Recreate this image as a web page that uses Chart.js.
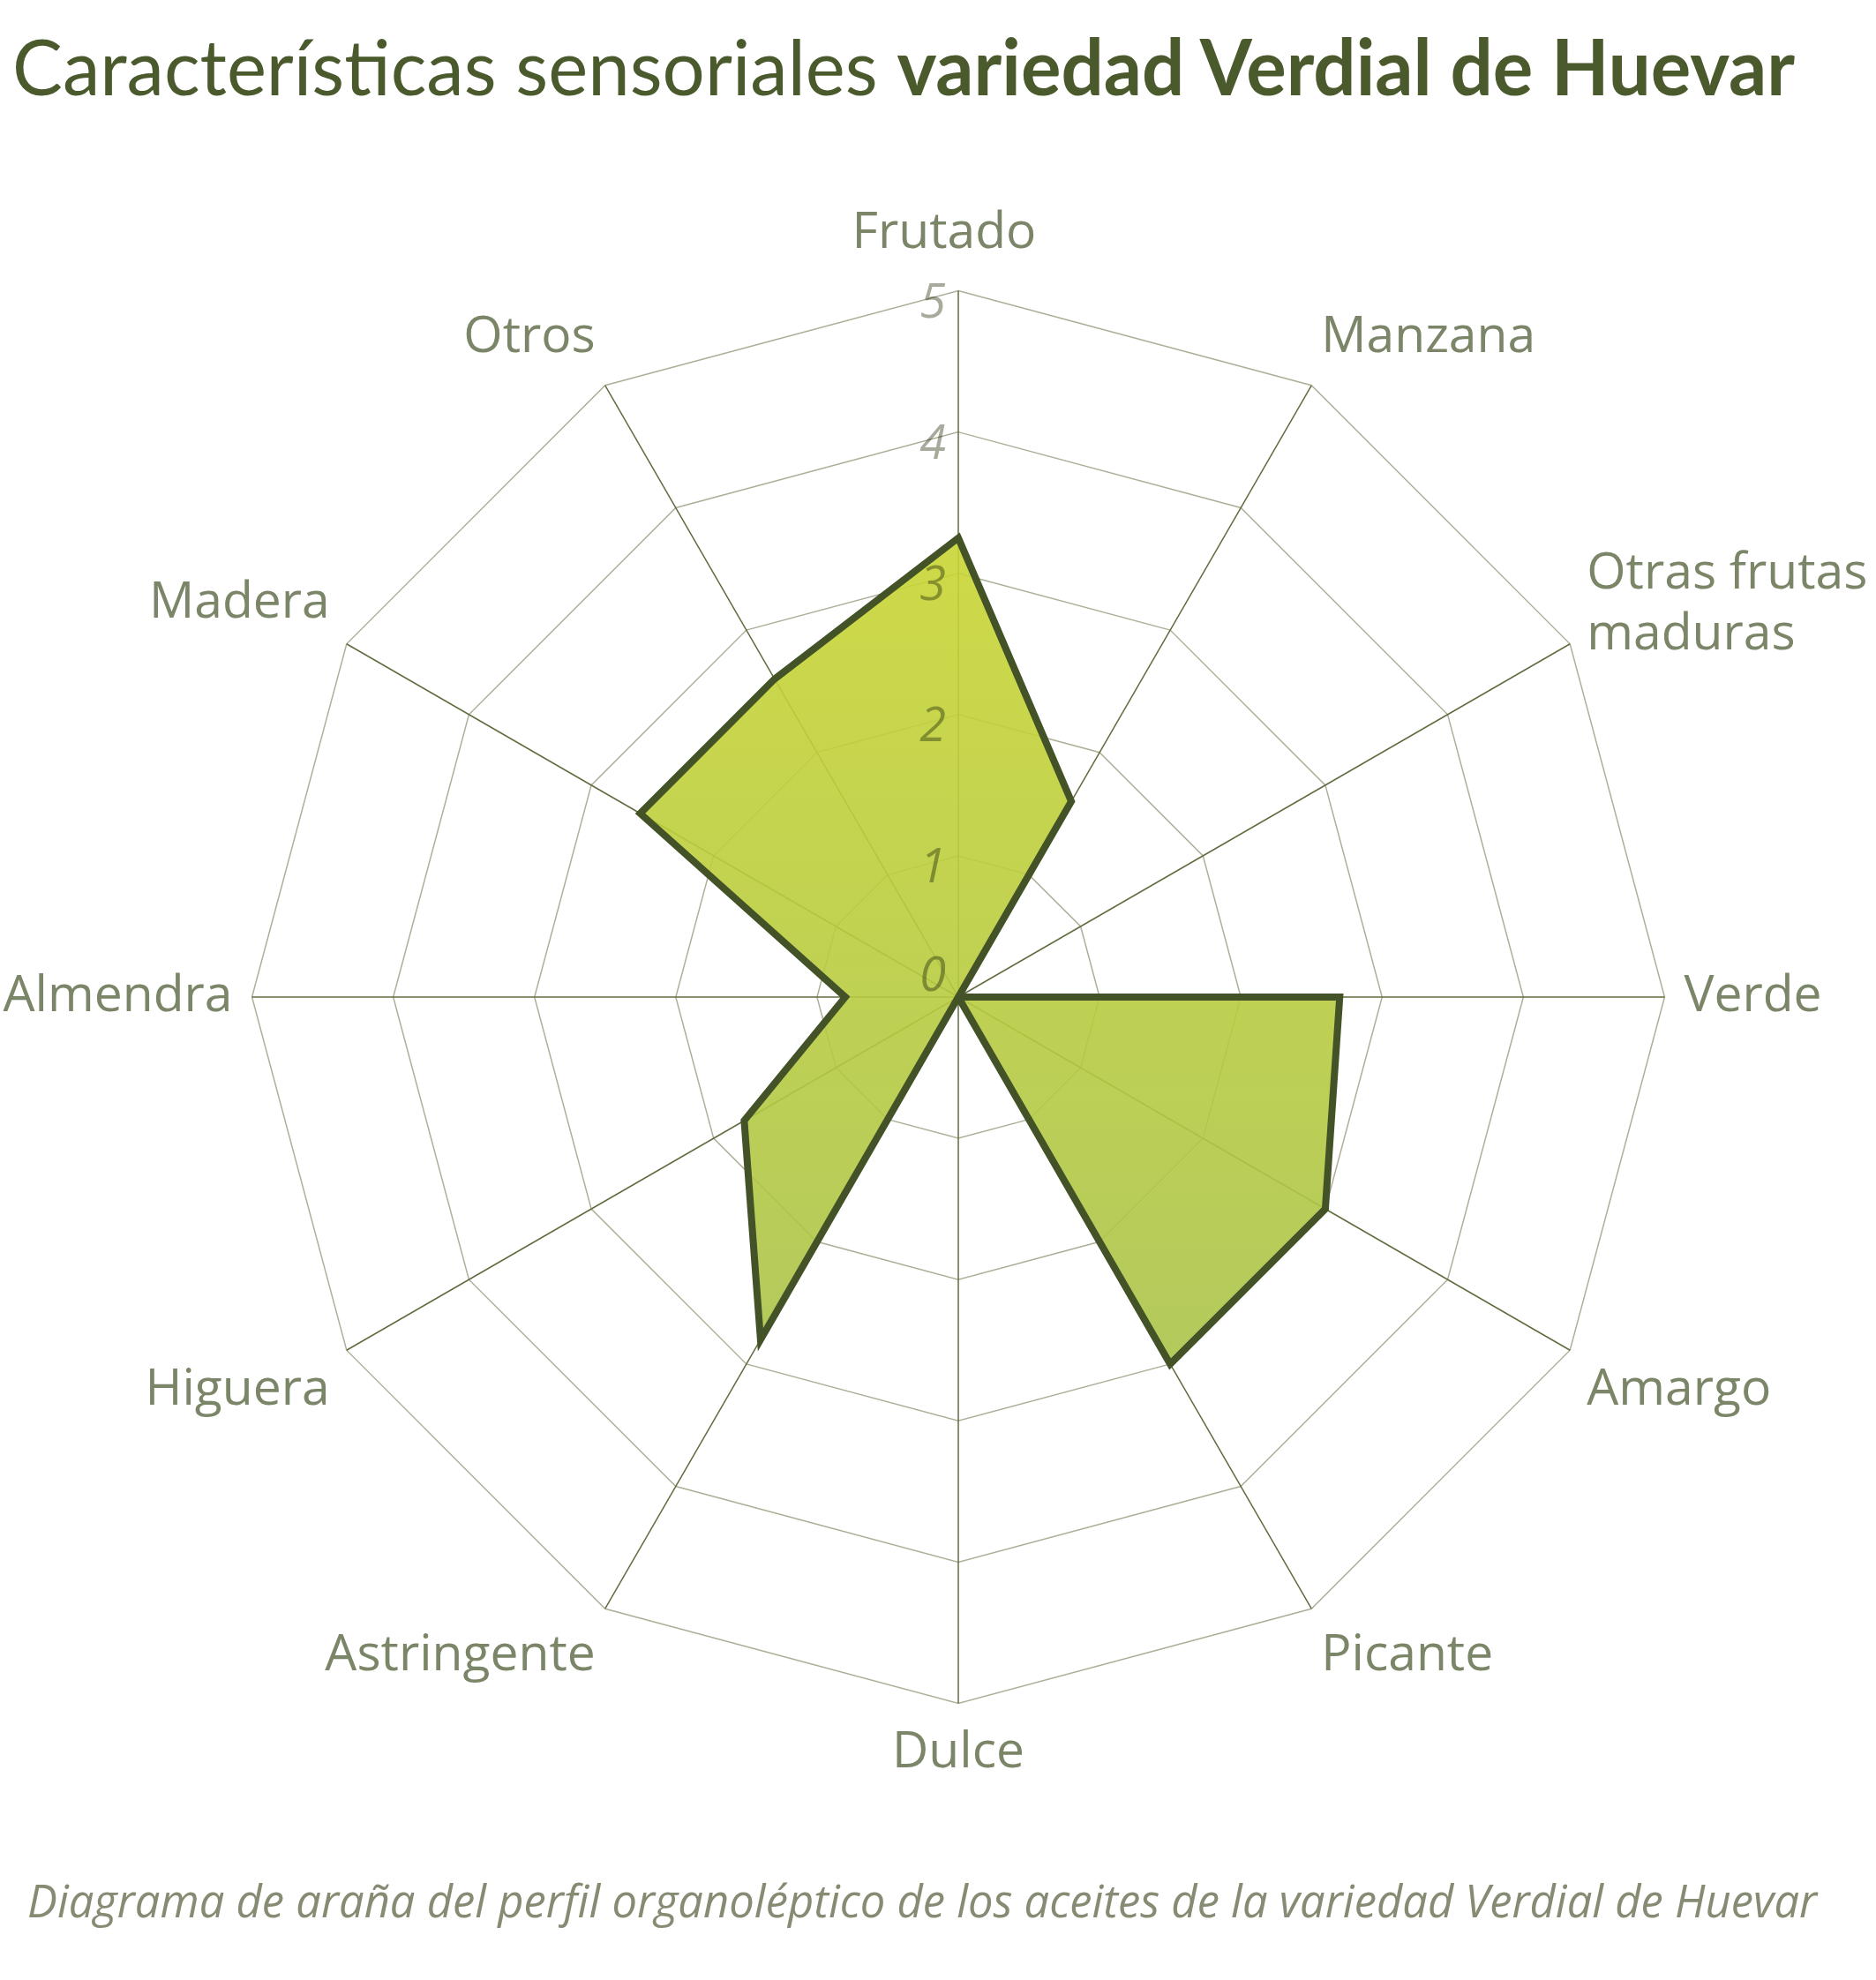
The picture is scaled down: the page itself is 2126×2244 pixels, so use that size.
<!DOCTYPE html>
<html lang="es">
<head>
<meta charset="utf-8">
<title>Características sensoriales variedad Verdial de Huevar</title>
<script src="https://cdn.jsdelivr.net/npm/chart.js@4.4.1/dist/chart.umd.min.js"></script>
<style>
  html, body { margin: 0; background: #fff; overflow: hidden; }
  body { width: 2126px; height: 2244px; position: relative; font-family: 'Open Sans', sans-serif; }
  #title { position: absolute; left: 14px; top: 30px; font-family: Lato, sans-serif; font-size: 88px; line-height: 88px;
           color: #4b5a2c; white-space: nowrap; transform-origin: 0 0; }
  #title b { font-weight: 700; }
  #wrap { position: absolute; left: -27px; top: 0; width: 2166px; height: 2244px; }
  #caption { position: absolute; left: 31px; top: 2118px; font-size: 51px; font-style: italic; color: #868c73;
             white-space: nowrap; transform-origin: 0 0; }
</style>
</head>
<body>
<div id="wrap"><canvas id="chart"></canvas></div>
<div id="title">Características sensoriales <b>variedad Verdial de Huevar</b></div>
<div id="caption">Diagrama de araña del perfil organoléptico de los aceites de la variedad Verdial de Huevar</div>
<script>
'use strict';

// axes, clockwise from the top
const attributes = ['Frutado', 'Manzana', ['Otras frutas', 'maduras'], 'Verde', 'Amargo', 'Picante',
  'Dulce', 'Astringente', 'Higuera', 'Almendra', 'Madera', 'Otros'];
const scores = [3.25, 1.6, 0, 2.7, 3.0, 3.0, 0, 2.8, 1.75, 0.8, 2.6, 2.6];
const tickValues = [0, 1, 2, 3, 4, 5];

// stretch the header/footer text to the widths used in the original
function fitWidth(id, target) {
  const el = document.getElementById(id);
  el.style.transform = `scaleX(${target / el.scrollWidth})`;
}
fitWidth('title', 2020);
fitWidth('caption', 2028);

// tick numbers sit just left of the vertical axis; multiply so they darken over the fill
const tickLabels = {
  id: 'tickLabels',
  afterDatasetsDraw(chart) {
    const s = chart.scales.r;
    const c = chart.ctx;
    c.save();
    c.globalCompositeOperation = 'multiply';
    c.font = 'italic 54px "Open Sans"';
    c.fillStyle = '#a6ab9b';
    c.textAlign = 'right';
    c.textBaseline = 'middle';
    tickValues.forEach(v => {
      const y = s.yCenter - s.getDistanceFromCenterForValue(v);
      c.fillText(String(v), s.xCenter - 14, v === 0 ? y - 22 : y + 15);
    });
    c.restore();
  },
};

// small hand offsets for a couple of axis titles
const labelShift = { 0: [-16, -8], 2: [0, 36] };
const labelNudge = {
  id: 'labelNudge',
  afterLayout(chart) {
    const items = chart.scales.r._pointLabelItems || [];
    Object.entries(labelShift).forEach(([i, [dx, dy]]) => {
      const it = items[i];
      if (!it) return;
      it.x += dx; it.left += dx; it.right += dx;
      it.y += dy; it.top += dy; it.bottom += dy;
    });
  },
};

new Chart(document.getElementById('chart'), {
  type: 'radar',
  data: {
    labels: attributes,
    datasets: [{
      data: scores,
      borderColor: '#435227',
      borderWidth: 8,
      pointRadius: 0,
      fill: true,
      backgroundColor: ctx => {
        const s = ctx.chart.scales.r;
        if (!s || !s.drawingArea) return 'rgba(190,208,60,0.92)';
        const g = ctx.chart.ctx.createLinearGradient(0, s.yCenter - s.drawingArea, 0, s.yCenter + s.drawingArea);
        g.addColorStop(0, 'rgba(210,219,45,0.9)');
        g.addColorStop(1, 'rgba(158,188,84,0.9)');
        return g;
      },
    }],
  },
  options: {
    responsive: true,
    maintainAspectRatio: false,
    animation: false,
    layout: { padding: { top: 238, bottom: 221, left: 0, right: 0 } },
    plugins: { legend: { display: false }, tooltip: { enabled: false } },
    scales: {
      r: {
        min: 0,
        max: 5,
        ticks: { stepSize: 1, display: false },
        grid: { color: '#adb098', lineWidth: 1.5 },
        angleLines: { color: '#5f6c3f', lineWidth: 1.5 },
        pointLabels: {
          color: '#7b8567',
          padding: 22,
          font: { family: 'Open Sans', size: 57, lineHeight: 1.22 },
        },
      },
    },
  },
  plugins: [tickLabels, labelNudge],
});
</script>
</body>
</html>
